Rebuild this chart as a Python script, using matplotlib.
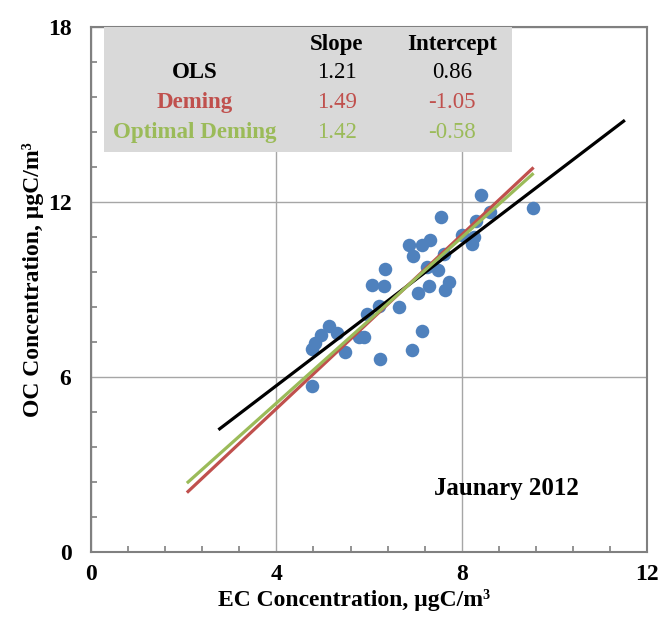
import numpy as np
import matplotlib
matplotlib.use("Agg")
import matplotlib.pyplot as plt
from matplotlib.patches import Rectangle
from matplotlib.ticker import MultipleLocator

plt.rcParams['font.family'] = ['Liberation Serif', 'DejaVu Serif']

# EC / OC observations, January 2012
ec = [8.41, 9.53, 7.56, 8.60, 8.30, 8.00, 8.27, 8.22, 7.32, 6.86, 7.14, 6.95,
      7.62, 6.35, 7.24, 7.48, 6.06, 6.32, 7.73, 7.30, 7.63, 7.06, 6.22, 6.65,
      5.96, 5.14, 5.30, 4.97, 5.78, 5.89, 4.83, 4.76, 5.48, 7.14, 6.92, 6.23, 4.76]
oc = [12.25, 11.79, 11.47, 11.64, 11.33, 10.87, 10.78, 10.55, 10.70, 10.52, 10.52, 10.13,
      10.21, 9.71, 9.77, 9.67, 9.14, 9.10, 9.27, 9.12, 8.98, 8.89, 8.43, 8.40,
      8.17, 7.74, 7.51, 7.42, 7.37, 7.37, 7.17, 6.96, 6.86, 7.57, 6.92, 6.62, 5.68]

# regression fits
methods = ['OLS', 'Deming', 'Optimal Deming']
slopes = [1.21, 1.49, 1.42]
intercepts = [0.86, -1.05, -0.58]
x_ranges = [(2.75, 11.52), (2.07, 9.55), (2.07, 9.55)]
colors = ['black', '#C0504D', '#9BBB59']

fig = plt.figure(figsize=(6.59, 6.23), dpi=100)
ax = fig.add_axes([0.138, 0.114, 0.844, 0.843])

ax.scatter(ec, oc, s=95, color='#4F81BD', zorder=2, linewidths=0)
for m, b, (x0, x1), c in zip(slopes, intercepts, x_ranges, colors):
    xs = np.array([x0, x1])
    ax.plot(xs, m * xs + b, color=c, lw=2.3, zorder=3, solid_capstyle='butt')

ax.set_xlim(0, 12)
ax.set_ylim(0, 18)
ax.set_xticks([0, 4, 8, 12])
ax.set_yticks([0, 6, 12, 18])
ax.xaxis.set_minor_locator(MultipleLocator(0.8))
ax.yaxis.set_minor_locator(MultipleLocator(1.2))
ax.tick_params(which='major', length=0, labelsize=17)
ax.tick_params(axis='x', which='major', pad=9)
ax.tick_params(axis='y', which='major', pad=14)
ax.tick_params(which='minor', direction='in', length=4, width=1.2, color='#808080')
for lab in ax.get_xticklabels() + ax.get_yticklabels():
    lab.set_fontweight('bold')
for s in ax.spines.values():
    s.set_color('#808080')
    s.set_linewidth(1.5)
ax.grid(True, which='major', color='#A6A6A6', lw=1.0, zorder=0)
ax.set_axisbelow(True)

ax.set_xlabel('EC Concentration, µgC/m³', fontsize=17, fontweight='bold', labelpad=2.5)
ax.set_ylabel('OC Concentration, µgC/m³', fontsize=17, fontweight='bold', labelpad=3)
ax.xaxis.label.set_x(0.473)
ax.yaxis.label.set_y(0.518)

# statistics table
ax.add_patch(Rectangle((0.28, 13.7), 8.81, 4.28, facecolor='#D9D9D9', edgecolor='none', zorder=4))
col_x = [2.24, 5.31, 7.79]
row_y = [16.45, 15.42, 14.39]
ax.text(col_x[1], 17.4, 'Slope', ha='center', va='center', fontsize=16.5, fontweight='bold', zorder=5)
ax.text(col_x[2], 17.4, 'Intercept', ha='center', va='center', fontsize=16.5, fontweight='bold', zorder=5)
for name, m, b, c, y in zip(methods, slopes, intercepts, colors, row_y):
    ax.text(col_x[0], y, name, ha='center', va='center', fontsize=16.5, fontweight='bold', color=c, zorder=5)
    ax.text(col_x[1], y, f'{m:.2f}', ha='center', va='center', fontsize=16.5, color=c, zorder=5)
    ax.text(col_x[2], y, f'{b:.2f}', ha='center', va='center', fontsize=16.5, color=c, zorder=5)

ax.text(8.96, 2.17, 'Jaunary 2012', ha='center', va='center', fontsize=18, fontweight='bold')

fig.savefig('out.png', dpi=100)
